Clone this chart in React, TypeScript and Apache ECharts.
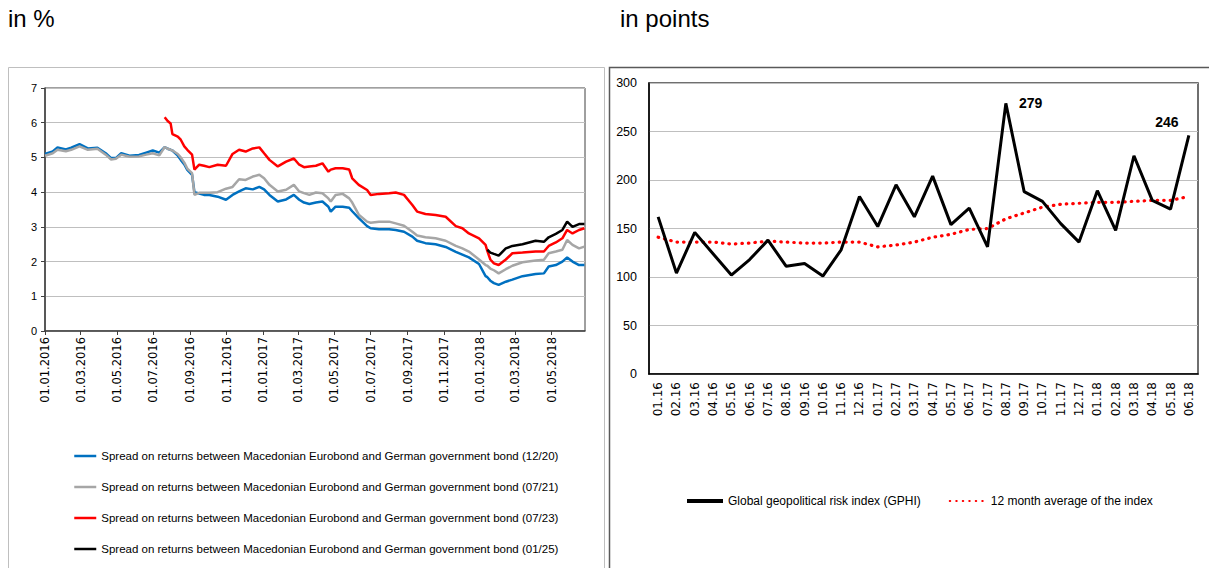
import React, { useEffect, useRef } from 'react';
import * as echarts from 'echarts';

// ---------- Left panel: spreads (in %) ----------
const spreadDates = [
  '2016-01-01','2016-01-14','2016-01-22','2016-02-05','2016-02-14','2016-02-28','2016-03-13','2016-03-29',
  '2016-04-12','2016-04-21','2016-04-29','2016-05-08','2016-05-22','2016-06-07','2016-06-19','2016-06-30',
  '2016-07-11','2016-07-20','2016-07-25','2016-07-30','2016-08-02','2016-08-11','2016-08-16','2016-08-22',
  '2016-08-27','2016-09-04','2016-09-08','2016-09-16','2016-09-24','2016-10-03','2016-10-17','2016-10-31',
  '2016-11-11','2016-11-22','2016-12-03','2016-12-15','2016-12-26','2017-01-03','2017-01-12','2017-01-26',
  '2017-02-09','2017-02-22','2017-03-03','2017-03-11','2017-03-20','2017-03-31','2017-04-11','2017-04-21',
  '2017-04-25','2017-05-03','2017-05-15','2017-05-26','2017-05-31','2017-06-11','2017-06-25','2017-07-01',
  '2017-07-15','2017-08-01','2017-08-12','2017-08-26','2017-09-09','2017-09-17','2017-10-01','2017-10-18',
  '2017-11-04','2017-11-21','2017-12-02','2017-12-13','2017-12-30','2018-01-10','2018-01-13','2018-01-18',
  '2018-01-24','2018-02-01','2018-02-13','2018-02-24','2018-03-13','2018-04-04','2018-04-18','2018-04-26',
  '2018-05-08','2018-05-19','2018-05-27','2018-06-05','2018-06-16','2018-06-25',
];
const spread1220 = [
  5.10,5.17,5.29,5.23,5.28,5.38,5.26,5.28,5.12,4.98,4.98,5.12,5.05,5.07,5.14,5.20,
  5.14,5.30,5.25,5.22,5.20,5.05,4.93,4.80,4.64,4.50,4.00,3.96,3.92,3.92,3.87,3.78,
  3.92,4.02,4.11,4.08,4.15,4.08,3.92,3.73,3.79,3.92,3.78,3.70,3.66,3.70,3.73,3.58,
  3.44,3.58,3.58,3.55,3.45,3.25,3.02,2.96,2.93,2.93,2.91,2.86,2.72,2.60,2.53,2.50,
  2.42,2.28,2.20,2.12,1.93,1.58,1.55,1.45,1.38,1.33,1.42,1.48,1.58,1.64,1.66,1.86,
  1.90,2.00,2.12,2.00,1.90,1.90,
];
const spread0721 = [
  5.05,5.12,5.22,5.18,5.22,5.32,5.22,5.25,5.08,4.94,4.96,5.08,5.02,5.03,5.08,5.12,
  5.06,5.30,5.25,5.22,5.20,5.10,5.00,4.85,4.68,4.55,3.92,3.98,3.98,3.98,4.00,4.10,
  4.15,4.37,4.35,4.45,4.50,4.40,4.21,4.02,4.07,4.21,4.02,3.97,3.92,3.99,3.97,3.82,
  3.73,3.92,3.95,3.82,3.70,3.35,3.15,3.12,3.15,3.15,3.10,3.03,2.86,2.75,2.70,2.67,
  2.60,2.45,2.38,2.29,2.06,1.90,1.88,1.80,1.75,1.66,1.78,1.88,1.98,2.03,2.05,2.24,
  2.29,2.34,2.62,2.48,2.38,2.43,
];
const spread0723 = [
  null,null,null,null,null,null,null,null,null,null,null,null,null,null,null,null,
  null,6.16,6.05,5.98,5.67,5.60,5.51,5.32,5.22,5.08,4.65,4.79,4.76,4.72,4.79,4.76,
  5.10,5.22,5.17,5.26,5.29,5.12,4.93,4.74,4.88,4.97,4.79,4.72,4.74,4.76,4.83,4.59,
  4.65,4.69,4.69,4.65,4.40,4.21,4.06,3.92,3.95,3.97,3.99,3.92,3.63,3.44,3.37,3.34,
  3.29,3.02,2.96,2.81,2.67,2.48,2.30,2.06,1.95,1.90,2.06,2.24,2.26,2.29,2.29,2.45,
  2.55,2.67,2.91,2.81,2.91,2.96,
];
const spread0125 = [
  null,null,null,null,null,null,null,null,null,null,null,null,null,null,null,null,
  null,null,null,null,null,null,null,null,null,null,null,null,null,null,null,null,
  null,null,null,null,null,null,null,null,null,null,null,null,null,null,null,null,
  null,null,null,null,null,null,null,null,null,null,null,null,null,null,null,null,
  null,null,null,null,null,null,2.34,2.26,2.22,2.17,2.38,2.45,2.50,2.60,2.57,2.70,
  2.80,2.91,3.15,3.00,3.08,3.08,
];
const spreadTickDates = [
  '2016-01-01','2016-03-01','2016-05-01','2016-07-01','2016-09-01','2016-11-01','2017-01-01','2017-03-01',
  '2017-05-01','2017-07-01','2017-09-01','2017-11-01','2018-01-01','2018-03-01','2018-05-01',
];
const spreadNames = [
  'Spread on returns between Macedonian Eurobond and German government bond (12/20)',
  'Spread on returns between Macedonian Eurobond and German government bond (07/21)',
  'Spread on returns between Macedonian Eurobond and German government bond (07/23)',
  'Spread on returns between Macedonian Eurobond and German government bond (01/25)',
];

// ---------- Right panel: geopolitical risk (in points) ----------
const gprMonths = [
  '01.16','02.16','03.16','04.16','05.16','06.16','07.16','08.16','09.16','10.16','11.16','12.16',
  '01.17','02.17','03.17','04.17','05.17','06.17','07.17','08.17','09.17','10.17','11.17','12.17',
  '01.18','02.18','03.18','04.18','05.18','06.18',
];
const gprIndex = [
  162,104,146,124,102,118,138,111,114,101,128,183,
  152,195,162,204,154,171,131,279,188,178,155,136,
  189,148,225,179,170,246,
];
const gprAverage = [
  141,136,136,136,134,135,137,136,135,135,136,136,
  131,133,136,141,144,149,150,160,166,172,175,176,
  177,177,178,179,179,183,
];
const gprLabelled = ['08.17', '06.18'];

function toTs(s: string): number {
  const [y, m, d] = s.split('-').map(Number);
  return new Date(y, m - 1, d).getTime();
}
function pad(n: number) { return n < 10 ? '0' + n : '' + n; }

const FONT = "'DejaVu Sans', Verdana, sans-serif";
const FONT_N = "'Liberation Sans', Arial, sans-serif";

export default function App() {
  const ref = useRef<HTMLDivElement>(null);
  useEffect(() => {
    if (!ref.current) return;
    const chart = echarts.init(ref.current, null, { renderer: 'svg' });
    const colors = ['#0070C0', '#A6A6A6', '#FF0000', '#000000'];
    const spreadArrays = [spread1220, spread0721, spread0723, spread0125];
    const tickTs = spreadTickDates.map(toTs);

    const spreadSeries = spreadArrays.map((arr, k) => ({
      name: spreadNames[k],
      type: 'line',
      xAxisIndex: 0,
      yAxisIndex: 0,
      symbol: 'none',
      showSymbol: false,
      lineStyle: { color: colors[k], width: 2.5 },
      itemStyle: { color: colors[k] },
      data: spreadDates.map((d, i) => [toTs(d), arr[i]]),
      z: 2 + k,
    }));

    const option: any = {
      animation: false,
      backgroundColor: '#ffffff',
      textStyle: { fontFamily: FONT },
      grid: [
        { left: 45, right: 624, top: 88, bottom: 237, show: true, borderColor: '#404040', borderWidth: 1, backgroundColor: 'transparent' },
        { left: 649, right: 11, top: 83, bottom: 194, show: true, borderColor: '#404040', borderWidth: 1.5, backgroundColor: 'transparent' },
      ],
      xAxis: [
        {
          type: 'value',
          gridIndex: 0,
          min: toTs('2016-01-01'),
          max: toTs('2018-06-26'),
          axisLine: { show: true, lineStyle: { color: '#404040', width: 1.5 } },
          axisTick: { show: true, customValues: tickTs, length: 4, lineStyle: { color: '#404040' } },
          splitLine: { show: false },
          axisLabel: {
            customValues: tickTs,
            rotate: 90,
            fontSize: 11.5,
            color: '#000',
            fontFamily: FONT,
            margin: 6,
            hideOverlap: false,
            showMinLabel: true,
            showMaxLabel: true,
            formatter: (v: number) => {
              const d = new Date(v);
              return pad(d.getDate()) + '.' + pad(d.getMonth() + 1) + '.' + d.getFullYear();
            },
          },
        },
        {
          type: 'category',
          gridIndex: 1,
          data: gprMonths,
          boundaryGap: true,
          axisLine: { show: true, lineStyle: { color: '#000', width: 1.5 } },
          axisTick: { show: false },
          axisLabel: { rotate: 90, interval: 0, fontSize: 12, color: '#000', fontFamily: FONT, margin: 8 },
        },
      ],
      yAxis: [
        {
          type: 'value',
          gridIndex: 0,
          min: 0,
          max: 7,
          interval: 1,
          axisLine: { show: true, lineStyle: { color: '#404040', width: 1.5 } },
          axisTick: { show: true, length: 4, lineStyle: { color: '#404040' } },
          splitLine: { show: true, lineStyle: { color: '#BFBFBF', width: 1 } },
          axisLabel: { fontSize: 11, color: '#000', fontFamily: FONT_N, margin: 8 },
        },
        {
          type: 'value',
          gridIndex: 1,
          min: 0,
          max: 300,
          interval: 50,
          axisLine: { show: true, lineStyle: { color: '#000', width: 1.5 } },
          axisTick: { show: false },
          splitLine: { show: true, lineStyle: { color: '#BFBFBF', width: 1 } },
          axisLabel: { fontSize: 12.5, color: '#000', fontFamily: FONT_N, margin: 12 },
        },
      ],
      legend: [
        {
          data: spreadNames,
          orient: 'vertical',
          left: 68,
          top: 445,
          itemGap: 19,
          itemWidth: 22,
          itemHeight: 14,
          itemStyle: { opacity: 0 },
          lineStyle: { width: 2.5 },
          textStyle: { fontSize: 11.5, color: '#000', fontFamily: FONT_N },
          selectedMode: false,
        },
        {
          data: [
            { name: 'Global geopolitical risk index (GPHI)', lineStyle: { width: 4 } },
            { name: '12 month average of the index' },
          ],
          orient: 'horizontal',
          left: 680,
          top: 490,
          itemGap: 28,
          itemWidth: 36,
          itemHeight: 14,
          itemStyle: { opacity: 0 },
          textStyle: { fontSize: 12, color: '#000', fontFamily: FONT_N },
          selectedMode: false,
        },
      ],
      graphic: [
        { type: 'rect', shape: { x: 8.5, y: 67.5, width: 596, height: 520 }, style: { fill: 'none', stroke: '#BFBFBF', lineWidth: 1 }, silent: true },
        { type: 'rect', shape: { x: 609.5, y: 67.5, width: 620, height: 520 }, style: { fill: 'none', stroke: '#595959', lineWidth: 1.5 }, silent: true },
        { type: 'text', left: 8, top: 6, style: { text: 'in %', fontSize: 24, fontFamily: FONT_N, fill: '#000' } },
        { type: 'text', left: 620, top: 6, style: { text: 'in points', fontSize: 24, fontFamily: FONT_N, fill: '#000' } },
      ],
      series: [
        ...spreadSeries,
        {
          name: 'Global geopolitical risk index (GPHI)',
          type: 'line',
          xAxisIndex: 1,
          yAxisIndex: 1,
          symbol: 'circle',
          symbolSize: 0.1,
          showSymbol: true,
          lineStyle: { color: '#000', width: 3 },
          itemStyle: { color: '#000', opacity: 0 },
          z: 5,
          data: gprIndex.map((v, i) => {
            const m = gprMonths[i];
            if (m === gprLabelled[0]) {
              return { value: v, label: { show: true, position: 'right', distance: 13, fontWeight: 'bold', fontSize: 14, fontFamily: FONT_N, color: '#000', opacity: 1 } };
            }
            if (m === gprLabelled[1]) {
              return { value: v, label: { show: true, position: 'top', distance: 6, offset: [-22, 0], fontWeight: 'bold', fontSize: 14, fontFamily: FONT_N, color: '#000', opacity: 1 } };
            }
            return v;
          }),
        },
        {
          name: '12 month average of the index',
          type: 'line',
          xAxisIndex: 1,
          yAxisIndex: 1,
          symbol: 'none',
          lineStyle: { color: '#FF0000', width: 3.2, type: [0.5, 6], cap: 'round' },
          itemStyle: { color: '#FF0000' },
          z: 4,
          data: gprAverage,
        },
      ],
    };
    chart.setOption(option);
    return () => chart.dispose();
  }, []);
  return (
    <div
      ref={ref}
      style={{ position: 'fixed', left: 0, top: 0, width: 1209, height: 568, background: '#fff' }}
    />
  );
}
